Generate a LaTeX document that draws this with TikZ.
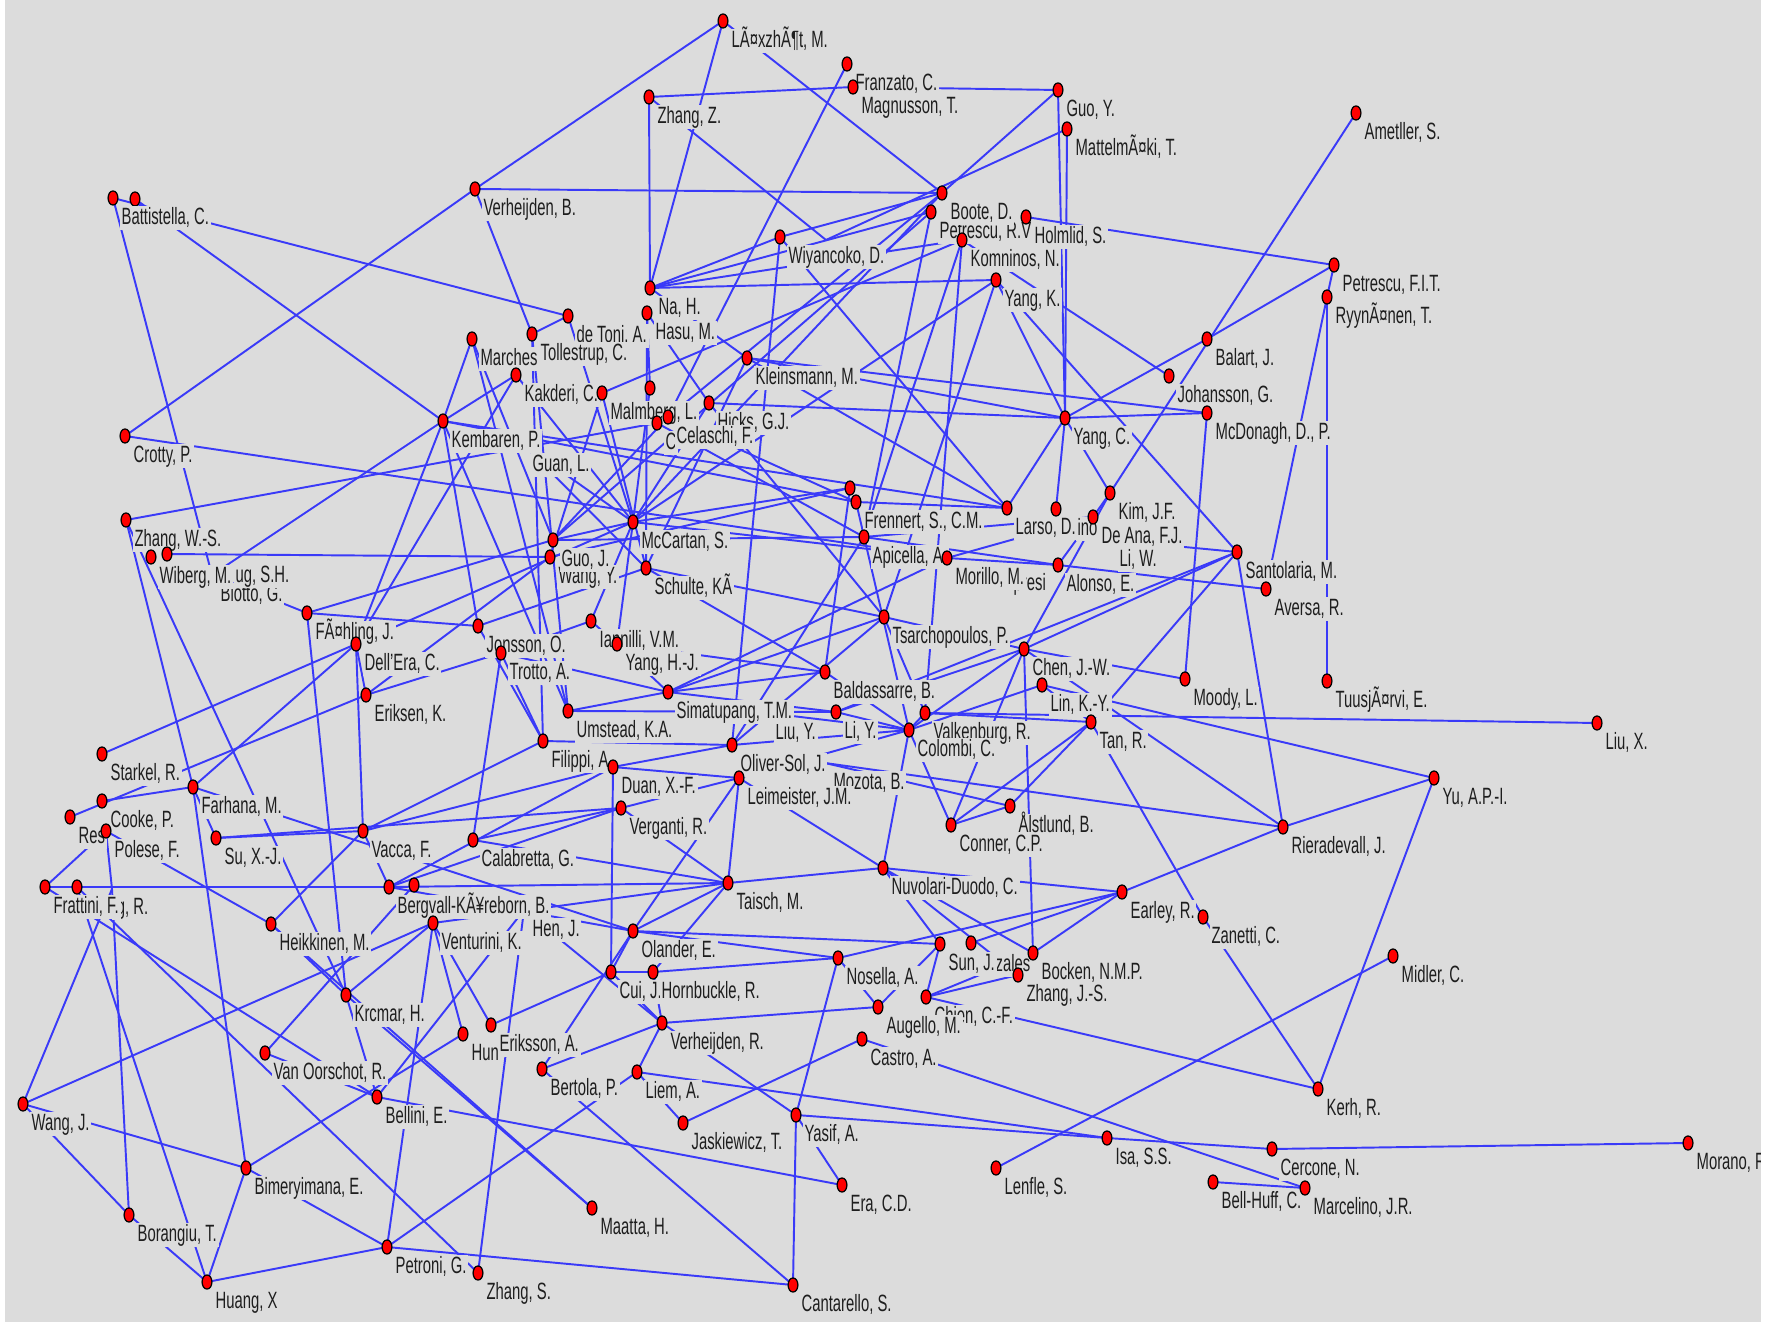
\documentclass[tikz,border=0pt]{standalone}
\usepackage{fontspec}
\setmainfont{Liberation Sans}[FakeStretch=0.63]
\usetikzlibrary{shapes.geometric}
\definecolor{bg}{RGB}{220,220,220}
\definecolor{lineblue}{RGB}{58,58,248}
\definecolor{txt}{RGB}{30,30,30}
\tikzset{
  edg/.style={draw=lineblue, line width=0.55pt},
  reddot/.style={ellipse, minimum width=2.8pt, minimum height=4pt, inner sep=0pt, fill=red, draw=black, line width=0.35pt},
  lbl/.style={anchor=west, xshift=1.75pt, yshift=-5.8pt, fill=bg, text=txt, inner xsep=0.5pt, inner ysep=0.3pt,
    font=\fontsize{6.7}{7}\selectfont, text height=4.9pt, text depth=1.3pt}
}
\newcommand\dl[2]{\node[reddot] (#1d) at (#1) {}; \node[lbl] (#1l) at (#1) {#2};}
\newcommand\dd[1]{\node[reddot] (#1d) at (#1) {};}
\newcommand\lo[2]{\node[lbl] (#1l) at (#1) {#2};}
\begin{document}
\begin{tikzpicture}[x=0.01cm,y=-0.01cm]
\useasboundingbox (0,0) rectangle (1773,1325);
\fill[white] (0,0) rectangle (1773,1325);
\fill[bg] (5,0) rectangle (1761,1322);
% nodes
\coordinate (lae) at (723,21);
\coordinate (franz) at (847,64);
\coordinate (magn) at (853,87);
\coordinate (zhangz) at (649,97);
\coordinate (guoy) at (1058,90);
\coordinate (matt) at (1067,129);
\coordinate (amet) at (1356,113);
\coordinate (batt) at (113,198);
\coordinate (battb) at (135,199);
\coordinate (verhB) at (475,189);
\coordinate (boote) at (942,193);
\coordinate (petrv) at (931,212);
\coordinate (holm) at (1026,217);
\coordinate (komn) at (962,240);
\coordinate (wiya) at (780,237);
\coordinate (hid) at (826,240);
\coordinate (petfit) at (1334,265);
\coordinate (ryyn) at (1327,297);
\coordinate (yangk) at (996,280);
\coordinate (nah) at (650,288);
\coordinate (hasu) at (647,313);
\coordinate (detoni) at (568,316);
\coordinate (tolle) at (532,334);
\coordinate (march) at (472,339);
\coordinate (balart) at (1207,339);
\coordinate (klein) at (747,358);
\coordinate (kakd) at (516,375);
\coordinate (joh) at (1169,376);
\coordinate (malm) at (602,393);
\coordinate (xlo) at (650,388);
\coordinate (hicks) at (709,403);
\coordinate (cdot) at (657,423);
\coordinate (cela) at (668,417);
\coordinate (mcdon) at (1207,413);
\coordinate (yangc) at (1065,418);
\coordinate (kemb) at (443,421);
\coordinate (crotty) at (125,436);
\coordinate (guanl) at (524,445);
\coordinate (mac) at (850,488);
\coordinate (frenn) at (856,502);
\coordinate (apic) at (864,537);
\coordinate (kim) at (1110,493);
\coordinate (larso) at (1007,508);
\coordinate (xino) at (1056,509);
\coordinate (deana) at (1093,517);
\coordinate (zhangws) at (126,520);
\coordinate (mccart) at (633,522);
\coordinate (guoj) at (553,540);
\coordinate (wangy) at (550,557);
\coordinate (santo) at (1237,552);
\coordinate (wiberg) at (151,557);
\coordinate (hung) at (167,554);
\coordinate (liw) at (1111,540);
\coordinate (alonso) at (1058,565);
\coordinate (schulte) at (646,568);
\coordinate (morillo) at (947,558);
\coordinate (aversa) at (1266,589);
\coordinate (biotto) at (212,575);
\coordinate (fahl) at (307,613);
\coordinate (tsarch) at (884,617);
\coordinate (ianni) at (591,621);
\coordinate (jonss) at (478,626);
\coordinate (dellera) at (356,644);
\coordinate (yanghj) at (617,644);
\coordinate (chenjw) at (1024,649);
\coordinate (trotto) at (501,653);
\coordinate (baldas) at (825,672);
\coordinate (moody) at (1185,679);
\coordinate (tuusj) at (1327,681);
\coordinate (linky) at (1042,685);
\coordinate (simat) at (668,692);
\coordinate (eriksen) at (366,695);
\coordinate (umst) at (568,711);
\coordinate (liy) at (836,712);
\coordinate (valk) at (925,713);
\coordinate (liuy) at (767,713);
\coordinate (tan) at (1091,722);
\coordinate (liux) at (1597,723);
\coordinate (colombi) at (909,730);
\coordinate (filippi) at (543,741);
\coordinate (oliver) at (732,745);
\coordinate (starkel) at (102,754);
\coordinate (duan) at (613,767);
\coordinate (leim) at (739,778);
\coordinate (mozota) at (825,763);
\coordinate (farhana) at (193,787);
\coordinate (yuapi) at (1434,778);
\coordinate (cooke) at (102,801);
\coordinate (alst) at (1010,806);
\coordinate (vergan) at (621,808);
\coordinate (resta) at (70,817);
\coordinate (conner) at (951,825);
\coordinate (riera) at (1283,827);
\coordinate (polese) at (106,831);
\coordinate (vacca) at (363,831);
\coordinate (suxj) at (216,838);
\coordinate (calab) at (473,840);
\coordinate (nuvol) at (883,868);
\coordinate (taisch) at (728,883);
\coordinate (fratt) at (45,887);
\coordinate (frattb) at (77,887);
\coordinate (fratc) at (112,889);
\coordinate (earley) at (1122,892);
\coordinate (berg) at (389,887);
\coordinate (bergb) at (414,885);
\coordinate (zanetti) at (1203,917);
\coordinate (ventu) at (433,923);
\coordinate (heikk) at (271,924);
\coordinate (henj) at (524,910);
\coordinate (olander) at (633,931);
\coordinate (sunj) at (940,944);
\coordinate (suntri) at (971,943);
\coordinate (bocken) at (1033,953);
\coordinate (midler) at (1393,956);
\coordinate (nosella) at (838,958);
\coordinate (cuij) at (611,972);
\coordinate (hornb) at (653,972);
\coordinate (zhangjs) at (1018,975);
\coordinate (krcmar) at (346,995);
\coordinate (chien) at (926,997);
\coordinate (augello) at (878,1007);
\coordinate (verhR) at (662,1023);
\coordinate (eriksson) at (491,1025);
\coordinate (hun) at (463,1034);
\coordinate (castro) at (862,1039);
\coordinate (vanoor) at (265,1053);
\coordinate (bertola) at (542,1069);
\coordinate (liem) at (637,1072);
\coordinate (kerh) at (1318,1089);
\coordinate (bellini) at (377,1097);
\coordinate (wangj) at (23,1104);
\coordinate (yasif) at (796,1115);
\coordinate (jask) at (683,1123);
\coordinate (isa) at (1107,1138);
\coordinate (morano) at (1688,1143);
\coordinate (cercone) at (1272,1149);
\coordinate (lenfle) at (996,1168);
\coordinate (bimery) at (246,1168);
\coordinate (bellhuff) at (1213,1182);
\coordinate (era) at (842,1185);
\coordinate (marcel) at (1305,1188);
\coordinate (maatta) at (592,1208);
\coordinate (borang) at (129,1215);
\coordinate (petroni) at (387,1247);
\coordinate (zhangs) at (478,1273);
\coordinate (huangx) at (207,1282);
\coordinate (cantar) at (793,1285);
% label-only anchors
\coordinate (inoL) at (1069,509);
\coordinate (presiL) at (1005,564);
\coordinate (hungL) at (227,556);
\coordinate (figL) at (105,888);
\coordinate (zalesL) at (987,945);
% edges
\foreach \a/\b in {lae/verhB, lae/boote, lae/nah, zhangz/magn, magn/guoy, zhangz/nah, zhangz/hid, matt/hid, guoy/boote, guoy/yangc, matt/yangc, franz/cela, verhB/boote, crotty/verhB, batt/detoni, battb/kemb, verhB/tolle, tolle/detoni, batt/biotto, holm/petfit, amet/kim, balart/petfit, balart/yangc, komn/joh, petfit/ryyn, ryyn/tuusj, ryyn/aversa, mcdon/moody, klein/mcdon, yangc/mcdon, yangk/yangc, yangk/santo, yangk/tsarch, nah/yangk, nah/wiya, nah/petrv, nah/komn, malm/komn, kakd/kemb, march/kemb, march/guoj, crotty/morillo, zhangws/cdot, zhangws/farhana, zhangws/krcmar, biotto/kemb, hung/wangy, wiya/boote, petrv/apic, komn/valk, yangk/mccart, boote/cela, klein/yangc, hicks/yangc, nah/klein, klein/larso, klein/schulte, kakd/mccart, malm/wangy, malm/schulte, detoni/mccart, hasu/xlo, hasu/schulte, hasu/hicks, wiya/oliver, wiya/larso}
  \draw[edg] (\a) -- (\b);
\foreach \a/\b in {mccart/guoj, mccart/mac, mccart/morillo, mccart/yanghj, mccart/dellera, mccart/hicks, guoj/fahl, wangy/eriksen, schulte/tsarch, jonss/schulte, simat/yanghj, simat/baldas, trotto/simat, simat/tsarch, umst/simat, kemb/larso, kemb/umst, tolle/umst, filippi/oliver, duan/oliver, duan/cuij, vergan/suxj, vergan/calab, vergan/leim, leim/taisch, leim/nuvol, oliver/tsarch, baldas/colombi, liy/colombi, liy/chenjw, colombi/chenjw, colombi/conner, colombi/nuvol, valk/colombi, mozota/riera, mozota/alst, conner/alst, conner/chenjw, nuvol/earley, nuvol/taisch, nuvol/sunj, nuvol/bocken, taisch/berg, taisch/olander, sunj/chien, suntri/earley, frenn/larso, apic/deana, apic/alonso, morillo/deana, morillo/alonso, deana/alonso, deana/kim, xino/yangc, kim/yangc, kim/chenjw, santo/riera, santo/chenjw, santo/liy, santo/tan, liw/santo, alonso/aversa, tsarch/chenjw, chenjw/moody, chenjw/riera, chenjw/bocken, linky/yuapi, valk/liux, tan/alst, tan/zanetti, tan/conner, riera/yuapi, riera/earley, earley/bocken, earley/nosella, zanetti/kerh, midler/lenfle, kerh/chien, kerh/yuapi}
  \draw[edg] (\a) -- (\b);
\foreach \a/\b in {castro/marcel, castro/jask, isa/cercone, liem/isa, yasif/isa, cercone/morano, bellhuff/marcel, era/bellini, yasif/era, yasif/cantar, yasif/verhR, yasif/nosella, petroni/cantar, petroni/huangx, petroni/bimery, petroni/ventu, petroni/liem, zhangs/henj, bertola/cantar, heikk/maatta, krcmar/maatta, bellini/vanoor, bellini/henj, krcmar/bellini, bimery/farhana, wangj/bimery, huangx/bimery, bimery/hun, wangj/fratc, wangj/ventu, wangj/borang, borang/fratc, borang/huangx, frattb/berg, frattb/huangx, fratt/bellini, frattb/zhangs, fratt/frattb, heikk/polese, krcmar/ventu, krcmar/heikk, vanoor/bergb, suxj/vacca, suxj/farhana, resta/eriksen, cooke/farhana, polese/fratc, polese/fratt, fahl/biotto, fahl/krcmar, fahl/jonss, dellera/kemb, dellera/kakd, starkel/dellera, farhana/dellera, dellera/vacca, eriksen/dellera, eriksen/trotto, vacca/filippi, vacca/berg, cuij/hornb, hornb/nosella, cuij/olander, verhR/hornb, verhR/cuij, verhR/augello, bertola/verhR, verhR/liem, nosella/augello, olander/nosella, ventu/hun, ventu/eriksson, bertola/olander, liem/jask, chien/zhangjs, chien/bocken, farhana/olander, henj/verhR, berg/olander}
  \draw[edg] (\a) -- (\b);
\foreach \a/\b in {ianni/trotto, ianni/yanghj, ianni/mccart, trotto/filippi, trotto/calab, umst/liy, yanghj/baldas, schulte/baldas, guanl/schulte, guanl/mccart, march/umst, tolle/filippi, cela/frenn, cdot/apic, hicks/tsarch, xlo/mccart, cela/guoj, petrv/guoj, boote/mccart, komn/apic, oliver/colombi, liuy/colombi, simat/liy, duan/vacca, duan/leim, leim/colombi, filippi/jonss, jonss/kemb, guoj/apic, wangy/mac, kemb/frenn, larso/yangc, frenn/colombi, mac/baldas, apic/oliver, morillo/simat, tsarch/valk, valk/tan, linky/colombi, linky/tan, taisch/vergan, calab/taisch, ventu/taisch, berg/duan, berg/vergan, olander/leim, olander/sunj, hornb/taisch, zhangjs/nuvol, augello/sunj, eriksson/cuij, heikk/vacca}
  \draw[edg] (\a) -- (\b);
% dots and labels
\dl{lae}{LÃ¤xzhÃ¶t, M.}
\dl{franz}{Franzato, C.}
\dl{magn}{Magnusson, T.}
\dl{zhangz}{Zhang, Z.}
\dl{guoy}{Guo, Y.}
\dl{amet}{Ametller, S.}
\dl{matt}{MattelmÃ¤ki, T.}
\dd{battb}
\dl{batt}{Battistella, C.}
\dl{verhB}{Verheijden, B.}
\dl{petrv}{Petrescu, R.V}
\dl{boote}{Boote, D.}
\dl{holm}{Holmlid, S.}
\dl{komn}{Komninos, N.}
\dl{wiya}{Wiyancoko, D.}
\dl{yangk}{Yang, K.}
\dl{petfit}{Petrescu, F.I.T.}
\dl{ryyn}{RyynÃ¤nen, T.}
\dl{nah}{Na, H.}
\dl{detoni}{de Toni, A.}
\dl{hasu}{Hasu, M.}
\dl{march}{Marches}
\dl{tolle}{Tollestrup, C.}
\dl{balart}{Balart, J.}
\dl{klein}{Kleinsmann, M.}
\dl{joh}{Johansson, G.}
\dl{kakd}{Kakderi, C.}
\dd{xlo}
\dl{malm}{Malmberg, L.}
\dl{hicks}{Hicks, G.J.}
\dl{cdot}{C}
\dl{cela}{Celaschi, F.}
\dl{mcdon}{McDonagh, D., P.}
\dl{yangc}{Yang, C.}
\dl{kemb}{Kembaren, P.}
\dl{crotty}{Crotty, P.}
\lo{guanl}{Guan, L.}
\dd{mac}
\dl{frenn}{Frennert, S., C.M.}
\dl{apic}{Apicella, A.}
\dl{kim}{Kim, J.F.}
\dl{larso}{Larso, D.}
\dd{xino}
\lo{inoL}{ino}
\dl{deana}{De Ana, F.J.}
\dl{zhangws}{Zhang, W.-S.}
\dl{mccart}{McCartan, S.}
\dl{wangy}{Wang, Y.}
\dl{guoj}{Guo, J.}
\dl{santo}{Santolaria, M.}
\lo{biotto}{Biotto, G.}
\dl{wiberg}{Wiberg, M.}
\dd{hung}
\lo{hungL}{ug, S.H.}
\lo{liw}{Li, W.}
\lo{presiL}{presi}
\dl{morillo}{Morillo, M.}
\dl{alonso}{Alonso, E.}
\dl{schulte}{Schulte, KÃ}
\dl{aversa}{Aversa, R.}
\dl{fahl}{FÃ¤hling, J.}
\dl{tsarch}{Tsarchopoulos, P.}
\dl{ianni}{Iannilli, V.M.}
\dl{jonss}{Jonsson, O.}
\dl{dellera}{Dell'Era, C.}
\dl{yanghj}{Yang, H.-J.}
\dl{chenjw}{Chen, J.-W.}
\dl{trotto}{Trotto, A.}
\dl{baldas}{Baldassarre, B.}
\dl{moody}{Moody, L.}
\dl{tuusj}{TuusjÃ¤rvi, E.}
\dl{linky}{Lin, K.-Y.}
\dl{eriksen}{Eriksen, K.}
\lo{liuy}{Liu, Y.}
\dl{simat}{Simatupang, T.M.}
\dl{umst}{Umstead, K.A.}
\dl{liy}{Li, Y.}
\dl{valk}{Valkenburg, R.}
\dl{tan}{Tan, R.}
\dl{liux}{Liu, X.}
\dl{colombi}{Colombi, C.}
\dl{filippi}{Filippi, A.}
\dl{oliver}{Oliver-Sol, J.}
\dl{starkel}{Starkel, R.}
\lo{mozota}{Mozota, B.}
\dl{duan}{Duan, X.-F.}
\dl{leim}{Leimeister, J.M.}
\dl{farhana}{Farhana, M.}
\dl{yuapi}{Yu, A.P.-I.}
\dl{resta}{Res}
\dl{cooke}{Cooke, P.}
\dl{alst}{Ålstlund, B.}
\dl{vergan}{Verganti, R.}
\dl{conner}{Conner, C.P.}
\dl{riera}{Rieradevall, J.}
\dl{polese}{Polese, F.}
\dl{vacca}{Vacca, F.}
\dl{suxj}{Su, X.-J.}
\dl{calab}{Calabretta, G.}
\dl{nuvol}{Nuvolari-Duodo, C.}
\dl{taisch}{Taisch, M.}
\dd{frattb}
\lo{figL}{ig, R.}
\dl{fratt}{Frattini, F.}
\dl{earley}{Earley, R.}
\dd{bergb}
\dl{berg}{Bergvall-KÃ¥reborn, B.}
\dl{zanetti}{Zanetti, C.}
\dl{heikk}{Heikkinen, M.}
\dl{ventu}{Venturini, K.}
\lo{henj}{Hen, J.}
\dl{olander}{Olander, E.}
\dd{suntri}
\lo{zalesL}{zales}
\dl{sunj}{Sun, J.}
\dl{bocken}{Bocken, N.M.P.}
\dl{zhangjs}{Zhang, J.-S.}
\dl{midler}{Midler, C.}
\dl{nosella}{Nosella, A.}
\dl{cuij}{Cui, J.}
\dl{hornb}{Hornbuckle, R.}
\dl{krcmar}{Krcmar, H.}
\dl{chien}{Chien, C.-F.}
\dl{augello}{Augello, M.}
\dl{verhR}{Verheijden, R.}
\dl{hun}{Hun}
\dl{eriksson}{Eriksson, A.}
\dl{castro}{Castro, A.}
\dl{vanoor}{Van Oorschot, R.}
\dl{bertola}{Bertola, P.}
\dl{liem}{Liem, A.}
\dl{kerh}{Kerh, R.}
\dl{bellini}{Bellini, E.}
\dl{wangj}{Wang, J.}
\dl{yasif}{Yasif, A.}
\dl{jask}{Jaskiewicz, T.}
\dl{isa}{Isa, S.S.}
\dl{morano}{Morano, R.}
\dl{cercone}{Cercone, N.}
\dl{lenfle}{Lenfle, S.}
\dl{bimery}{Bimeryimana, E.}
\dl{bellhuff}{Bell-Huff, C.}
\dl{era}{Era, C.D.}
\dl{marcel}{Marcelino, J.R.}
\dl{maatta}{Maatta, H.}
\dl{borang}{Borangiu, T.}
\dl{petroni}{Petroni, G.}
\dl{zhangs}{Zhang, S.}
\dl{huangx}{Huang, X}
\dl{cantar}{Cantarello, S.}
\fill[white] (1761,0) rectangle (1773,1325);
\end{tikzpicture}
\end{document}
